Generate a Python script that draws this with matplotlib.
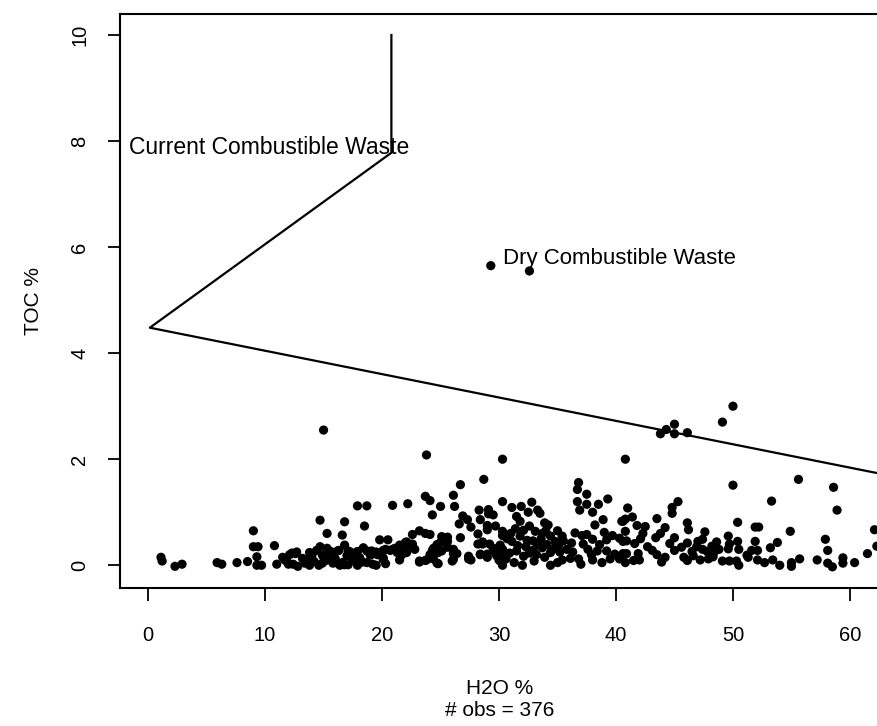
import matplotlib
matplotlib.use("Agg")
import matplotlib.pyplot as plt
import numpy as np

plt.rcParams['font.family'] = ['Liberation Sans', 'DejaVu Sans']

pts_low = [(1.1,0.15),(1.2,0.08),(2.3,-0.02),(2.9,0.02),(5.9,0.05),(6.3,0.02),(7.6,0.05),(8.5,0.07),
           (9.0,0.65),(9.0,0.35),(9.4,0.35),(9.3,0.16),(9.3,0.0),(9.7,0.0)]
pts_10s = [(10.8,0.37),(11.0,0.02),(11.5,0.15),(11.7,0.1),(12.0,0.02),(12.3,0.23),(12.7,0.25),(12.8,-0.02),
           (13.2,0.13),(13.7,0.11),(13.8,0.24),(13.8,0.0),(14.4,0.28),(14.7,0.35),(14.7,0.85),(14.9,0.19),
           (14.9,0.04),(15.0,2.55),(15.3,0.32),(15.3,0.6),(15.6,0.26),(15.7,0.15),(15.8,0.23),(15.8,0.04),
           (16.2,0.27),(16.3,0.28),(16.6,0.57),(16.6,0.05),(16.8,0.82),(16.8,0.38),(16.8,0.01),(17.0,0.18),
           (17.1,0.27),(17.1,0.01),(17.3,0.25),(17.8,0.22),(17.9,1.12),(17.9,0.26),(17.9,0.0),(18.1,0.14),
           (18.4,0.33),(18.5,0.74),(18.7,1.12),(18.7,0.27),(18.7,0.05),(19.0,0.19),(19.1,0.27),(19.2,0.02),
           (19.5,0.25),(19.6,0.2),(19.8,0.48),(20.1,0.28),(20.1,0.11),(20.1,0.14),(20.3,0.03),(20.5,0.48),
           (20.3,0.3),(11.9,0.06),(12.4,0.02),(13.4,0.04),(14.2,0.07),(14.6,0.0),(15.2,0.09),(16.0,0.05),
           (16.4,0.0),(17.5,0.1),(18.3,0.06),(19.5,0.0),(12.1,0.2),(12.6,0.22),(14.0,0.18),(15.0,0.17),(16.0,0.12)]
pts_20s = [(20.7,0.28),(20.9,1.13),(20.9,0.3),(21.1,0.32),(21.3,0.24),(21.5,0.1),(21.5,0.38),(21.6,0.33),
           (21.7,0.2),(22.0,0.43),(22.0,0.34),(22.1,0.24),(22.1,0.44),(22.2,1.16),(22.6,0.58),(22.6,0.37),
           (22.6,0.4),(22.8,0.3),(23.2,0.65),(23.2,0.06),(23.2,0.08),(23.7,1.3),(23.7,0.6),(23.7,0.09),
           (23.8,2.08),(23.8,0.1),(24.1,1.22),(24.1,0.58),(24.1,0.2),(24.1,0.14),(24.3,0.95),(24.3,0.28),
           (24.4,0.12),(24.4,0.32),(24.7,0.39),(24.7,0.04),(24.8,0.03),(24.8,0.24),(25.0,1.11),(25.0,0.43),
           (25.1,0.54),(25.1,0.27),(25.6,0.45),(25.6,0.53),(25.6,0.34),(26.0,0.08),(26.1,1.32),(26.1,0.22),
           (26.1,0.3),(26.1,0.11),(26.2,1.11),(26.4,0.22),(26.6,0.78),(26.7,1.52),(26.7,0.52),(26.9,0.93),
           (27.3,0.86),(27.4,0.17),(27.6,0.72),(27.6,0.1),(28.2,0.59),(28.2,0.4),(28.3,1.04),(28.4,0.86),
           (28.4,0.21),(28.6,0.44),(28.7,1.62),(29.0,0.67),(29.0,0.21),(29.1,0.97),(29.2,0.4),(29.3,5.65),
           (29.5,0.95),(29.7,0.74),(29.8,0.31),(29.8,0.18),(30.1,0.38),(30.1,0.08),(27.4,0.12),(28.4,0.2),
           (28.6,0.4),(29.0,0.15),(29.0,0.75),(29.1,1.05),(29.5,0.32),(29.7,0.25),(30.0,0.1)]
pts_30s = [(30.3,2.0),(30.3,1.2),(30.3,0.64),(30.3,0.56),(30.3,0.3),(30.3,0.18),(30.3,0.0),(30.7,0.5),
           (30.9,0.23),(31.1,1.09),(31.1,0.45),(31.4,0.69),(31.5,0.92),(31.5,0.27),(31.6,0.37),(31.8,0.83),
           (31.9,1.11),(32.1,0.66),(32.1,0.17),(32.4,0.47),(32.5,1.0),(32.6,0.74),(32.6,0.23),(32.6,5.55),
           (32.8,1.19),(32.9,0.46),(33.1,0.64),(33.2,0.2),(33.3,1.04),(33.3,0.38),(33.5,0.98),(33.7,0.6),
           (33.7,0.33),(33.9,0.8),(34.1,0.39),(34.2,0.76),(34.4,0.55),(34.4,0.24),(34.4,0.0),(34.6,0.3),
           (35.0,0.65),(35.2,0.25),(35.4,0.55),(35.4,0.1),(35.5,0.46),(36.1,0.13),(36.5,0.61),(36.7,1.43),
           (36.7,1.2),(36.8,1.56),(36.8,0.12),(36.9,1.04),(37.1,0.56),(37.5,1.34),(37.5,1.15),(37.5,0.58),
           (37.6,0.3),(38.0,1.0),(38.0,0.49),(38.2,0.76),(38.4,0.27),(38.5,1.15),(38.6,0.39),(38.9,0.86),
           (39.2,0.48),(39.2,0.27),(39.3,1.25),(39.5,0.12),(39.7,0.56),(39.9,0.21),(31.0,0.6),(31.8,0.55),
           (32.3,0.35),(32.9,0.28),(33.6,0.5),(34.0,0.65),(34.8,0.45),(35.1,0.38),(35.8,0.3),(36.2,0.42),
           (30.6,0.12),(31.3,0.05),(32.0,0.0),(33.0,0.08),(33.9,0.15),(35.0,0.05),(36.3,0.25),(37.0,0.02),
           (38.0,0.1),(38.8,0.05),(37.2,0.4),(39.0,0.62),(37.9,0.2)]
pts_40s = [(40.3,0.51),(40.3,0.12),(40.5,0.83),(40.6,0.83),(40.6,0.45),(40.6,0.22),(40.8,2.0),(40.8,0.87),
           (40.8,0.64),(40.8,0.05),(40.9,0.46),(40.9,0.22),(41.0,1.08),(41.4,0.91),(41.5,0.09),(41.6,0.41),
           (41.8,0.75),(41.9,0.22),(42.1,0.5),(42.3,0.6),(42.5,0.73),(43.1,0.28),(43.4,0.52),(43.5,0.88),
           (43.8,2.48),(43.8,0.6),(43.9,0.06),(44.2,0.71),(44.3,2.56),(44.6,0.41),(44.8,1.09),(44.8,0.98),
           (45.0,2.66),(45.0,2.48),(45.0,0.52),(45.0,0.28),(45.3,1.2),(45.6,0.34),(46.1,2.5),(46.1,0.8),
           (46.1,0.42),(46.1,0.09),(46.2,0.67),(46.5,0.26),(46.9,0.35),(47.2,0.1),(47.4,0.49),(47.4,0.3),
           (47.6,0.63),(47.8,0.26),(48.2,0.36),(48.3,0.16),(48.4,0.25),(48.6,0.44),(49.1,2.7),(49.1,0.08),
           (49.6,0.55),(49.6,0.31),(49.7,0.4),(49.7,0.08),(45.8,0.15),(46.6,0.18),(47.0,0.45),(47.9,0.12),
           (48.8,0.3),(44.2,0.15),(42.7,0.35),(42.0,0.1),(43.5,0.2)]
pts_50s = [(50.0,3.0),(50.0,1.51),(50.3,0.08),(50.4,0.81),(50.4,0.45),(50.5,0.3),(50.5,0.0),(51.2,0.19),
           (51.3,0.15),(51.6,0.28),(51.9,0.72),(51.9,0.45),(52.1,0.28),(52.1,0.1),(52.2,0.72),(52.7,0.05),
           (53.2,0.33),(53.3,1.21),(53.4,0.1),(53.8,0.43),(54.0,0.0),(54.9,0.64),(55.0,0.05),(55.0,-0.02),
           (55.6,1.62),(55.7,0.12),(57.2,0.1),(57.9,0.49),(58.1,0.28),(58.1,0.04),(58.5,-0.03),(58.6,1.47),
           (58.9,1.04),(59.4,0.14),(59.4,0.04),(60.4,0.05),(61.5,0.22),(62.1,0.67),(62.3,0.36)]

# boundary polyline (H2O %, TOC %)
boundary_h2o = [20.8, 20.8, 0.15, 70.0]
boundary_toc = [10.0, 7.78, 4.48, 1.40]

x_ticks = [0, 10, 20, 30, 40, 50, 60]
y_ticks = [0, 2, 4, 6, 8, 10]
n_obs = 376

allpts = pts_low + pts_10s + pts_20s + pts_30s + pts_40s + pts_50s
h2o = np.array([p[0] for p in allpts])
toc = np.array([p[1] for p in allpts])

fig = plt.figure(figsize=(8.78, 7.26), dpi=100)
ax = fig.add_axes([0.1367, 0.190, 0.8633, 0.791])
ax.set_xlim(-2.4, 62.4)
ax.set_ylim(-0.43, 10.4)

ax.scatter(h2o, toc, s=44, c='black', edgecolors='none', zorder=3)
ax.plot(boundary_h2o, boundary_toc, color='black', lw=1.6, clip_on=True)

ax.text(-1.6, 7.87, "Current Combustible Waste", fontsize=16.5, va='center', ha='left')
ax.text(30.3, 5.79, "Dry Combustible Waste", fontsize=16, va='center', ha='left')

ax.set_xticks(x_ticks)
ax.set_yticks(y_ticks)
ax.set_yticklabels([str(v) for v in y_ticks], rotation=90, va='center')
ax.tick_params(direction='out', length=9, width=1.3, labelsize=14.5)
ax.tick_params(axis='x', pad=18)
ax.tick_params(axis='y', pad=13)
for side in ['left', 'top', 'bottom']:
    ax.spines[side].set_linewidth(1.5)
ax.spines['right'].set_visible(False)

ax.set_ylabel("TOC %", fontsize=15, labelpad=20)
fig.text(0.569, 0.052, "H2O %", fontsize=15, ha='center', va='center')
fig.text(0.569, 0.021, "# obs = %d" % n_obs, fontsize=15, ha='center', va='center')

fig.savefig("out.png", dpi=100)
